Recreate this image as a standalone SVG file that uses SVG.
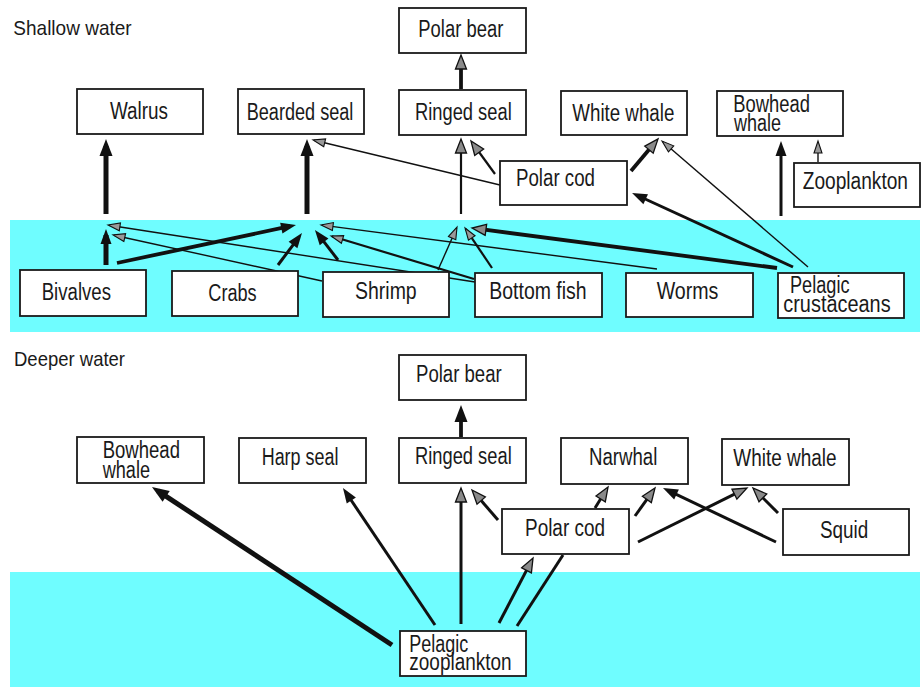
<svg xmlns="http://www.w3.org/2000/svg" width="922" height="687" viewBox="0 0 922 687">
<style>
.band{fill:#6ffdff}
.box{fill:#fff;stroke:#1a1a1a;stroke-width:1.8}
.t{font-family:"Liberation Sans",Arial,sans-serif;font-size:23px;fill:#1a1a1a}
.h{font-family:"Liberation Sans",Arial,sans-serif;font-size:21px;fill:#1a1a1a}
#connectors line{stroke:#111;fill:none;stroke-linecap:butt}
.w1{stroke-width:1.4}
.w2{stroke-width:2.2}
.w3{stroke-width:3}
.w4{stroke-width:3.8}
.w5{stroke-width:5}
</style>
<defs>
<marker id="big" markerUnits="userSpaceOnUse" markerWidth="17" markerHeight="13" refX="10" refY="6.5" orient="auto" overflow="visible"><path d="M0,0 L17,6.5 L0,13 Z" fill="#111"/></marker>
<marker id="med" markerUnits="userSpaceOnUse" markerWidth="15" markerHeight="11" refX="9" refY="5.5" orient="auto" overflow="visible"><path d="M0,0 L15,5.5 L0,11 Z" fill="#111"/></marker>
<marker id="hol" markerUnits="userSpaceOnUse" markerWidth="14" markerHeight="11" refX="9" refY="5.5" orient="auto" overflow="visible"><path d="M0,0 L14,5.5 L0,11 Z" fill="#8a8a8a" stroke="#111" stroke-width="1.3"/></marker>
<marker id="thin" markerUnits="userSpaceOnUse" markerWidth="12" markerHeight="8" refX="11" refY="4" orient="auto" overflow="visible"><path d="M0,0 L12,4 L0,8 Z" fill="#999" stroke="#111" stroke-width="1.1"/></marker>
</defs>
<rect width="922" height="687" fill="#fff"/>
<rect class="band" x="10" y="220" width="910" height="112"/>
<rect class="band" x="10" y="572" width="910" height="115"/>
<text class="h" x="13.3" y="34.5" textLength="118.4" lengthAdjust="spacingAndGlyphs">Shallow water</text>
<text class="h" x="14" y="366" textLength="111" lengthAdjust="spacingAndGlyphs">Deeper water</text>
<g id="connectors">
<line class="w4" x1="461" y1="89" x2="461" y2="60" marker-end="url(#hol)"/>
<line class="w5" x1="106" y1="214" x2="106" y2="146" marker-end="url(#big)"/>
<line class="w5" x1="307" y1="214" x2="307" y2="146" marker-end="url(#big)"/>
<line class="w2" x1="461" y1="214" x2="461" y2="144" marker-end="url(#hol)"/>
<line class="w1" x1="500" y1="185" x2="314" y2="140.2" marker-end="url(#thin)"/>
<line class="w2" x1="495" y1="174" x2="473.9" y2="145" marker-end="url(#hol)"/>
<line class="w4" x1="631" y1="171" x2="654.8" y2="142.8" marker-end="url(#hol)"/>
<line class="w1" x1="808" y1="267" x2="662.8" y2="141.7" marker-end="url(#thin)"/>
<line class="w3" x1="793" y1="267" x2="637.5" y2="195.5" marker-end="url(#med)"/>
<line class="w3" x1="781" y1="216" x2="781" y2="147" marker-end="url(#med)"/>
<line class="w1" x1="818" y1="162" x2="818" y2="142" marker-end="url(#thin)"/>
<line class="w5" x1="106" y1="265" x2="106" y2="235" marker-end="url(#med)"/>
<line class="w1" x1="475" y1="282" x2="109" y2="225.2" marker-end="url(#thin)"/>
<line class="w1" x1="322" y1="281" x2="114" y2="235.2" marker-end="url(#thin)"/>
<line class="w4" x1="117" y1="263" x2="290.1" y2="226.2" marker-end="url(#med)"/>
<line class="w3" x1="278" y1="265" x2="298.4" y2="237.8" marker-end="url(#med)"/>
<line class="w3" x1="338" y1="260" x2="318.6" y2="234.8" marker-end="url(#med)"/>
<line class="w1" x1="657" y1="269" x2="322" y2="225.1" marker-end="url(#thin)"/>
<line class="w2" x1="474" y1="279" x2="332" y2="236.3" marker-end="url(#thin)"/>
<line class="w1" x1="438" y1="270" x2="456.6" y2="228" marker-end="url(#thin)"/>
<line class="w2" x1="492" y1="268" x2="465.6" y2="228.8" marker-end="url(#thin)"/>
<line class="w4" x1="777" y1="268" x2="477" y2="228.7" marker-end="url(#hol)"/>
<line class="w4" x1="461" y1="437" x2="461" y2="412" marker-end="url(#big)"/>
<line class="w5" x1="392" y1="645" x2="157.8" y2="490.9" marker-end="url(#big)"/>
<line class="w3" x1="435" y1="625" x2="346.3" y2="493" marker-end="url(#med)"/>
<line class="w3" x1="461" y1="624" x2="461" y2="493" marker-end="url(#hol)"/>
<line class="w3" x1="499" y1="623" x2="530.7" y2="562.4" marker-end="url(#hol)"/>
<line class="w3" x1="517" y1="626" x2="563" y2="555"/>
<line class="w3" x1="498" y1="520" x2="475.3" y2="493.8" marker-end="url(#hol)"/>
<line class="w3" x1="595" y1="508" x2="605.4" y2="491.3" marker-end="url(#hol)"/>
<line class="w3" x1="635" y1="516" x2="652.1" y2="492.1" marker-end="url(#hol)"/>
<line class="w3" x1="776" y1="542" x2="668.4" y2="490.6" marker-end="url(#med)"/>
<line class="w3" x1="638" y1="542" x2="742.5" y2="490.2" marker-end="url(#hol)"/>
<line class="w3" x1="778" y1="513" x2="756.5" y2="491.5" marker-end="url(#hol)"/>
</g>
<g id="polar-bear-shallow"><rect class="box" x="399" y="8" width="127" height="45"/><text class="t" x="418.3" y="37" textLength="85" lengthAdjust="spacingAndGlyphs">Polar bear</text></g>
<g id="walrus"><rect class="box" x="77" y="89" width="126" height="45"/><text class="t" x="110" y="119" textLength="58" lengthAdjust="spacingAndGlyphs">Walrus</text></g>
<g id="bearded-seal"><rect class="box" x="238" y="89" width="126" height="45"/><text class="t" x="246.7" y="120" textLength="106.7" lengthAdjust="spacingAndGlyphs">Bearded seal</text></g>
<g id="ringed-seal-shallow"><rect class="box" x="399" y="90" width="127" height="45"/><text class="t" x="415" y="120" textLength="96.7" lengthAdjust="spacingAndGlyphs">Ringed seal</text></g>
<g id="white-whale-shallow"><rect class="box" x="561" y="91" width="126" height="44"/><text class="t" x="572.3" y="121" textLength="102" lengthAdjust="spacingAndGlyphs">White whale</text></g>
<g id="bowhead-whale-shallow"><rect class="box" x="717" y="91" width="126" height="45"/><text class="t"><tspan x="733.3" y="112" textLength="76.7" lengthAdjust="spacingAndGlyphs">Bowhead</tspan><tspan x="734" y="131" textLength="47" lengthAdjust="spacingAndGlyphs">whale</tspan></text></g>
<g id="polar-cod-shallow"><rect class="box" x="500" y="161" width="127" height="44"/><text class="t" x="516" y="186" textLength="79" lengthAdjust="spacingAndGlyphs">Polar cod</text></g>
<g id="zooplankton"><rect class="box" x="794" y="163" width="126" height="44"/><text class="t" x="802.7" y="189" textLength="105.3" lengthAdjust="spacingAndGlyphs">Zooplankton</text></g>
<g id="bivalves"><rect class="box" x="20" y="270" width="126" height="46"/><text class="t" x="41.7" y="300" textLength="69.3" lengthAdjust="spacingAndGlyphs">Bivalves</text></g>
<g id="crabs"><rect class="box" x="172" y="271" width="126" height="45"/><text class="t" x="208.3" y="300.5" textLength="48.4" lengthAdjust="spacingAndGlyphs">Crabs</text></g>
<g id="shrimp"><rect class="box" x="323" y="272" width="126" height="45"/><text class="t" x="355" y="298.5" textLength="61.7" lengthAdjust="spacingAndGlyphs">Shrimp</text></g>
<g id="bottom-fish"><rect class="box" x="475" y="273" width="127" height="44"/><text class="t" x="489.3" y="299" textLength="97.3" lengthAdjust="spacingAndGlyphs">Bottom fish</text></g>
<g id="worms"><rect class="box" x="626" y="273" width="127" height="44"/><text class="t" x="656.7" y="299" textLength="61.7" lengthAdjust="spacingAndGlyphs">Worms</text></g>
<g id="pelagic-crustaceans"><rect class="box" x="778" y="273" width="126" height="45"/><text class="t"><tspan x="790" y="293" textLength="59.5" lengthAdjust="spacingAndGlyphs">Pelagic</tspan><tspan x="783.3" y="312" textLength="107.3" lengthAdjust="spacingAndGlyphs">crustaceans</tspan></text></g>
<g id="polar-bear-deep"><rect class="box" x="399" y="355" width="127" height="45"/><text class="t" x="416" y="381.5" textLength="85.7" lengthAdjust="spacingAndGlyphs">Polar bear</text></g>
<g id="bowhead-whale-deep"><rect class="box" x="77" y="437" width="127" height="46"/><text class="t"><tspan x="102.7" y="458" textLength="77.3" lengthAdjust="spacingAndGlyphs">Bowhead</tspan><tspan x="102.7" y="477.5" textLength="47.3" lengthAdjust="spacingAndGlyphs">whale</tspan></text></g>
<g id="harp-seal"><rect class="box" x="239" y="438" width="127" height="45"/><text class="t" x="261.7" y="465" textLength="76.7" lengthAdjust="spacingAndGlyphs">Harp seal</text></g>
<g id="ringed-seal-deep"><rect class="box" x="399" y="438" width="127" height="45"/><text class="t" x="415" y="464" textLength="96.7" lengthAdjust="spacingAndGlyphs">Ringed seal</text></g>
<g id="narwhal"><rect class="box" x="561" y="438" width="127" height="46"/><text class="t" x="589" y="465" textLength="68.3" lengthAdjust="spacingAndGlyphs">Narwhal</text></g>
<g id="white-whale-deep"><rect class="box" x="722" y="439" width="127" height="46"/><text class="t" x="733.3" y="466" textLength="103.3" lengthAdjust="spacingAndGlyphs">White whale</text></g>
<g id="polar-cod-deep"><rect class="box" x="502" y="509" width="127" height="45"/><text class="t" x="525" y="536" textLength="80" lengthAdjust="spacingAndGlyphs">Polar cod</text></g>
<g id="squid"><rect class="box" x="783" y="509" width="126" height="46"/><text class="t" x="820" y="538" textLength="48.3" lengthAdjust="spacingAndGlyphs">Squid</text></g>
<g id="pelagic-zooplankton"><rect class="box" x="400" y="631" width="126" height="45"/><text class="t"><tspan x="409.3" y="652" textLength="59" lengthAdjust="spacingAndGlyphs">Pelagic</tspan><tspan x="409.3" y="670" textLength="102.3" lengthAdjust="spacingAndGlyphs">zooplankton</tspan></text></g>
</svg>
